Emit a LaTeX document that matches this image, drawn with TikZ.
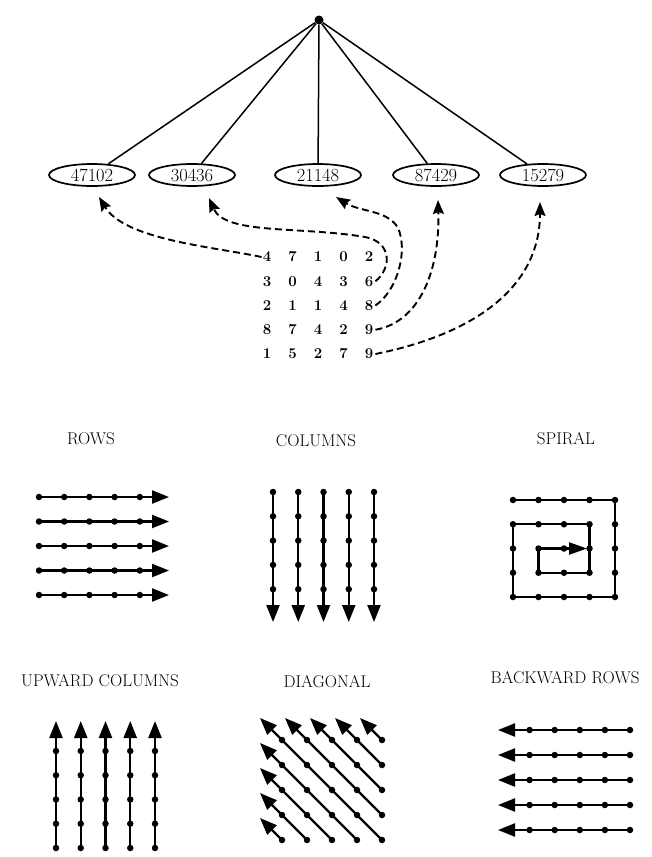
\documentclass[tikz,border=0pt]{standalone}
\usetikzlibrary{arrows.meta,shapes.geometric}
\begin{document}
\begin{tikzpicture}[x=1pt,y=-1pt,
  num/.style={draw, ellipse, line width=1.7pt, minimum width=86pt, minimum height=22pt, inner sep=0pt, font=\fontsize{18.5}{18.5}\selectfont},
  digit/.style={font=\fontsize{15}{15}\selectfont\bfseries, inner sep=0pt},
  tree/.style={line width=1.5pt},
  patharrow/.style={line width=1.9pt, dash pattern=on 7pt off 4pt, -{Stealth[length=14pt,width=11pt,inset=2pt]}},
  dot/.style={circle, fill, inner sep=0pt, minimum size=6.5pt},
  pat/.style={line width=2.3pt, -{Triangle[length=17pt,width=13pt]}},
  lbl/.style={font=\fontsize{17}{17}\selectfont, inner sep=0pt}]
\useasboundingbox (0,0) rectangle (652,857);

% tree
\node[circle, fill, inner sep=0pt, minimum size=9pt] (root) at (319,20) {};
\node[num] (e1) at (92,175) {47102};
\node[num] (e2) at (192,175) {30436};
\node[num] (e3) at (318,175) {21148};
\node[num] (e4) at (436,175) {87429};
\node[num] (e5) at (543,175) {15279};
\foreach \e in {e1,e2,e3,e4,e5} \draw[tree] (root) -- (\e);

% matrix
\foreach \r [count=\j] in {{4,7,1,0,2},{3,0,4,3,6},{2,1,1,4,8},{8,7,4,2,9},{1,5,2,7,9}} {
  \foreach \d [count=\i] in \r {
    \node[digit] (m\j\i) at ({267+25.5*(\i-1)},{257+24.25*(\j-1)}) {\d};
  }
}
\coordinate (t1) at (99,197);
\coordinate (t2) at (209,198);
\coordinate (t3) at (336,197);
\coordinate (t4) at (438,200);
\coordinate (t5) at (540,202);
\coordinate (c2) at (365,237);
\coordinate (c3) at (398,228);
\draw[patharrow] ([xshift=-1pt]m11.west) .. controls (215,247) and (125,240) .. (t1);
\draw[patharrow] ([xshift=2pt]m25.east) .. controls (392,268) and (392,242) .. (c2) .. controls (300,226) and (225,235) .. (t2);
\draw[patharrow] ([xshift=2pt]m35.east) .. controls (398,290) and (408,250) .. (c3) .. controls (388,210) and (360,212) .. (t3);
\draw[patharrow] ([xshift=2pt]m45.east) .. controls (420,322) and (440,270) .. (t4);
\draw[patharrow] ([xshift=2pt]m55.east) .. controls (470,335) and (540,290) .. (t5);

% labels
\node[lbl] (l1) at (91,439) {ROWS};
\node[lbl] (l2) at (316,441) {COLUMNS};
\node[lbl] (l3) at (566,439) {SPIRAL};
\node[lbl] (l4) at (100,681) {UPWARD COLUMNS};
\node[lbl] (l5) at (327,682) {DIAGONAL};
\node[lbl] (l6) at (565,678) {BACKWARD ROWS};

% rows
\foreach \j in {0,...,4} {
  \foreach \i in {0,...,4} \node[dot] (r\j\i) at ({39+25.2*\i},{497+24.5*\j}) {};
  \coordinate (rt\j) at (169,{497+24.5*\j});
  \draw[pat] (r\j0.center) -- (rt\j);
}

% columns
\foreach \i in {0,...,4} {
  \foreach \j in {0,...,4} \node[dot] (c\i\j) at ({273+25.25*\i},{492+24.3*\j}) {};
  \coordinate (ct\i) at ({273+25.25*\i},622);
  \draw[pat] (c\i0.center) -- (ct\i);
}

% spiral
\foreach \i in {0,...,4} \foreach \j in {0,...,4} \node[dot] (s\i\j) at ({513+25.5*\i},{500+24.25*\j}) {};
\coordinate (st) at (587,548.5);
\draw[line width=2.3pt, -{Triangle[length=18pt,width=12pt]}] (s00.center) -- (s40.center) -- (s44.center) -- (s04.center) -- (s01.center) -- (s31.center) -- (s33.center) -- (s13.center) -- (s12.center) -- (st);

% upward columns
\foreach \i in {0,...,4} {
  \foreach \j in {0,...,4} \node[dot] (u\i\j) at ({56+24.75*\i},{751+24.25*\j}) {};
  \coordinate (ut\i) at ({56+24.75*\i},721);
  \draw[pat] (u\i4.center) -- (ut\i);
}

% diagonal
\foreach \i in {0,...,4} \foreach \j in {0,...,4} \node[dot] (d\i\j) at ({282+25*\i},{740+25*\j}) {};
\foreach \k in {0,...,4} {
  \pgfmathtruncatemacro\lr{4-\k}
  \coordinate (dt\k) at ({282+25*\k-22},718);
  \draw[pat] (d4\lr.center) -- (dt\k);
}
\foreach \k in {1,...,4} {
  \pgfmathtruncatemacro\lr{4-\k}
  \coordinate (dl\k) at (260,{740+25*\k-22});
  \draw[pat] (d\lr4.center) -- (dl\k);
}

% backward rows
\foreach \j in {0,...,4} {
  \foreach \i in {0,...,4} \node[dot] (b\j\i) at ({630-25.1*\i},{730+25*\j}) {};
  \coordinate (bt\j) at (498,{730+25*\j});
  \draw[pat] (b\j0.center) -- (bt\j);
}
\end{tikzpicture}
\end{document}
